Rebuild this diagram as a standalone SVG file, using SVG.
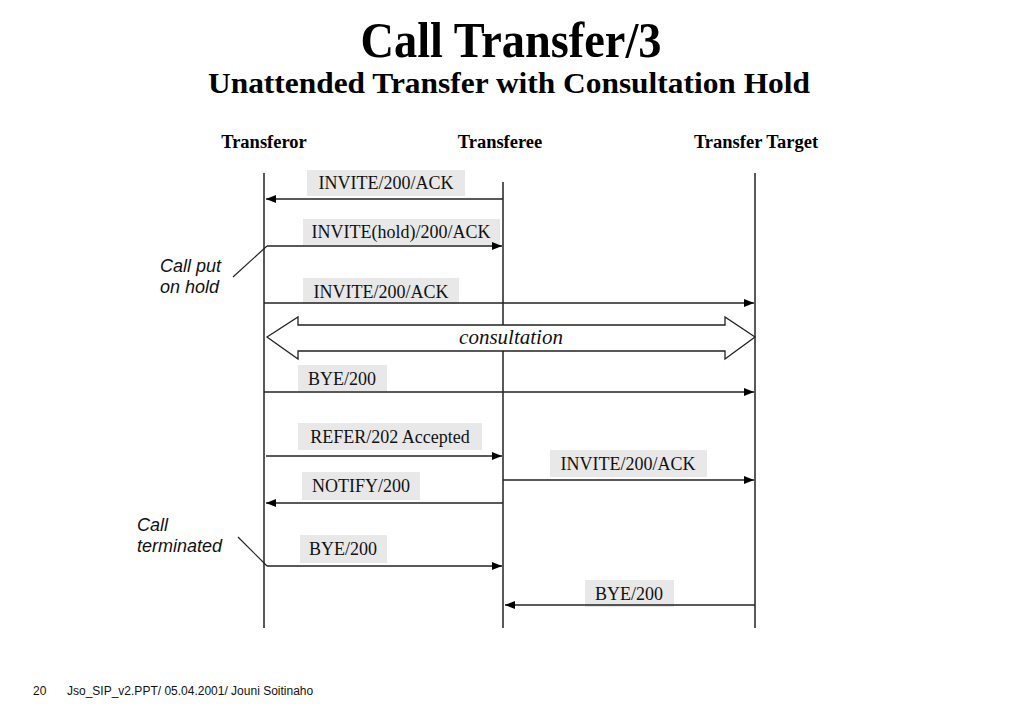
<svg xmlns="http://www.w3.org/2000/svg" width="1023" height="708" viewBox="0 0 1023 708">
<defs>
<marker id="ah" viewBox="0 0 10 8" refX="10" refY="4" markerWidth="10" markerHeight="8" markerUnits="userSpaceOnUse" orient="auto">
<path d="M0,0 L10,4 L0,8 Z" fill="#000"/>
</marker>
<style>
.life{stroke:#222;stroke-width:1.5;fill:none}
.msg{stroke:#222;stroke-width:1.5;fill:none;marker-end:url(#ah)}
.note{stroke:#222;stroke-width:1.2;fill:none}
.box{fill:#e8e8e8}
.lbl{font-family:"Liberation Serif","Times New Roman",serif;font-size:18px;fill:#111;text-anchor:middle}
.lane{font-family:"Liberation Serif","Times New Roman",serif;font-size:18.5px;font-weight:bold;fill:#000;text-anchor:middle}
.side{font-family:"Liberation Sans",Arial,sans-serif;font-size:18px;font-style:italic;fill:#111}
.foot{font-family:"Liberation Sans",Arial,sans-serif;font-size:12px;fill:#111}
</style>
</defs>
<rect width="1023" height="708" fill="#fff"/>
<g id="title">
<text x="511" y="57" text-anchor="middle" font-family="Liberation Serif,Times New Roman,serif" font-weight="bold" font-size="50" textLength="301" lengthAdjust="spacingAndGlyphs">Call Transfer/3</text>
<text x="509" y="93" text-anchor="middle" font-family="Liberation Serif,Times New Roman,serif" font-weight="bold" font-size="30" textLength="602" lengthAdjust="spacingAndGlyphs">Unattended Transfer with Consultation Hold</text>
</g>
<g id="transferor">
<text class="lane" x="264" y="148">Transferor</text>
<line class="life" x1="264" y1="173" x2="264" y2="628"/>
</g>
<g id="transferee">
<text class="lane" x="500" y="148">Transferee</text>
<line class="life" x1="503" y1="182" x2="503" y2="628"/>
</g>
<g id="transfer-target">
<text class="lane" x="756" y="148">Transfer Target</text>
<line class="life" x1="755" y1="173" x2="755" y2="628"/>
</g>
<g id="labels">
<rect class="box" x="307" y="170" width="158" height="26"/>
<text class="lbl" x="386" y="189">INVITE/200/ACK</text>
<rect class="box" x="303" y="219" width="197" height="26"/>
<text class="lbl" x="401" y="238">INVITE(hold)/200/ACK</text>
<rect class="box" x="303" y="278" width="156" height="26"/>
<text class="lbl" x="381" y="298">INVITE/200/ACK</text>
<rect class="box" x="298" y="365" width="89" height="26"/>
<text class="lbl" x="342" y="385">BYE/200</text>
<rect class="box" x="298" y="423" width="184" height="27"/>
<text class="lbl" x="390" y="443">REFER/202 Accepted</text>
<rect class="box" x="550" y="450" width="157" height="27"/>
<text class="lbl" x="628" y="470">INVITE/200/ACK</text>
<rect class="box" x="302" y="472" width="118" height="28"/>
<text class="lbl" x="361" y="492">NOTIFY/200</text>
<rect class="box" x="300" y="535" width="87" height="28"/>
<text class="lbl" x="343" y="555">BYE/200</text>
<rect class="box" x="585" y="580" width="89" height="27"/>
<text class="lbl" x="629" y="600">BYE/200</text>
</g>
<g id="connectors">
<line class="msg" x1="503" y1="199" x2="266" y2="199"/>
<line class="msg" x1="267" y1="246" x2="502" y2="246"/>
<line class="msg" x1="264" y1="303" x2="754" y2="303"/>
<line class="msg" x1="264" y1="392" x2="754" y2="392"/>
<line class="msg" x1="266" y1="456" x2="502" y2="456"/>
<line class="msg" x1="503" y1="480" x2="754" y2="480"/>
<line class="msg" x1="503" y1="503" x2="266" y2="503"/>
<line class="msg" x1="267" y1="566" x2="502" y2="566"/>
<line class="msg" x1="755" y1="605" x2="505" y2="605"/>
</g>
<g id="consultation">
<path d="M267,337 L298,317 L298,325 L725,325 L725,317 L755,337 L725,359 L725,351 L298,351 L298,359 Z" fill="#fff" stroke="#222" stroke-width="1.3"/>
<text x="511" y="344" text-anchor="middle" font-family="Liberation Serif,Times New Roman,serif" font-style="italic" font-size="21" fill="#111">consultation</text>
</g>
<g id="note-hold">
<text class="side" x="160" y="272">Call put</text>
<text class="side" x="160" y="293">on hold</text>
<line class="note" x1="233" y1="277" x2="267" y2="246"/>
</g>
<g id="note-terminated">
<text class="side" x="137" y="531">Call</text>
<text class="side" x="137" y="552">terminated</text>
<line class="note" x1="238" y1="537" x2="267" y2="566"/>
</g>
<g id="footer">
<text class="foot" x="33" y="695">20</text>
<text class="foot" x="67" y="695">Jso_SIP_v2.PPT/ 05.04.2001/ Jouni Soitinaho</text>
</g>
</svg>
